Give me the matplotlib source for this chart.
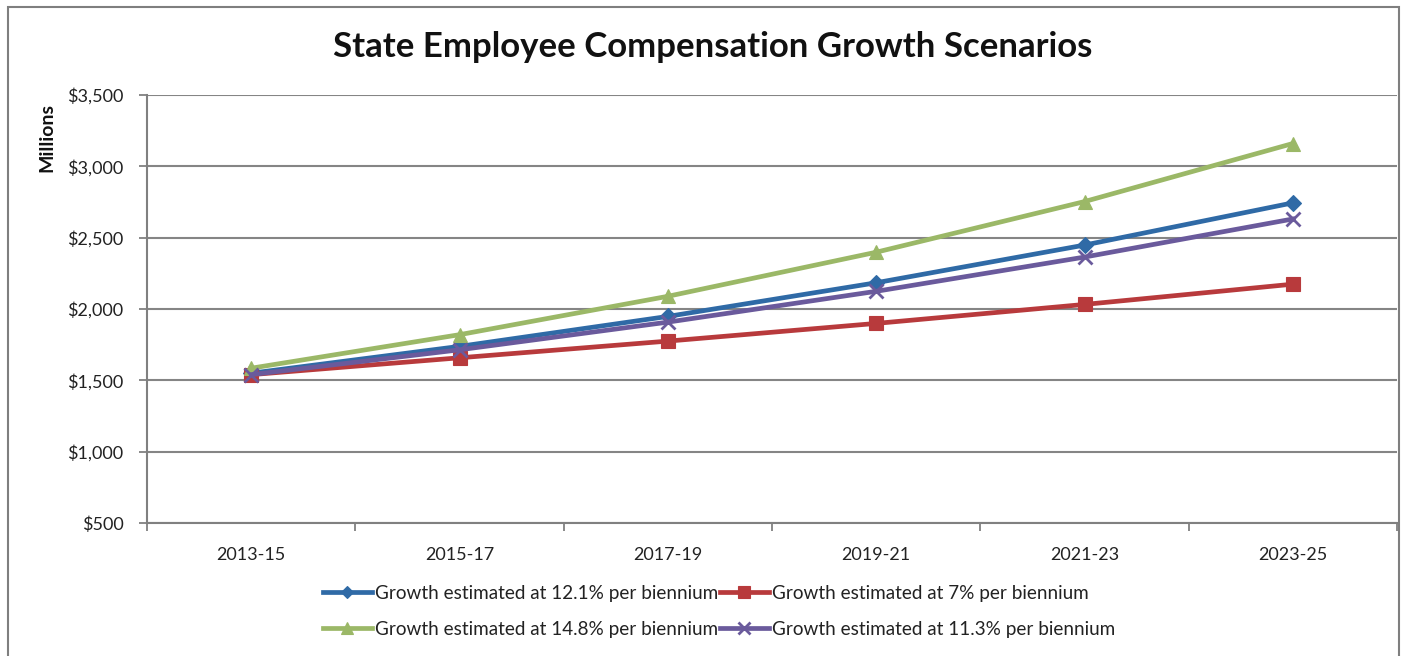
import matplotlib.pyplot as plt
from matplotlib.patches import Rectangle
from matplotlib.ticker import FuncFormatter, MultipleLocator

plt.rcParams['font.family'] = ['Lato', 'DejaVu Sans']

periods = ['2013-15', '2015-17', '2017-19', '2019-21', '2021-23', '2023-25']
growth_121 = [1550, 1738, 1948, 2184, 2448, 2744]
growth_70 = [1540, 1658, 1775, 1899, 2032, 2174]
growth_148 = [1585, 1820, 2089, 2398, 2753, 3160]
growth_113 = [1540, 1714, 1908, 2124, 2364, 2631]

series = [
    ('Growth estimated at 12.1% per biennium', growth_121, '#2f6aa6', 'D', 8),
    ('Growth estimated at 7% per biennium', growth_70, '#b83a3c', 's', 10),
    ('Growth estimated at 14.8% per biennium', growth_148, '#9bb867', '^', 10),
    ('Growth estimated at 11.3% per biennium', growth_113, '#6a5a9c', 'x', 10),
]

fig = plt.figure(figsize=(14.01, 6.56), dpi=100)
fig.patches.append(Rectangle((8 / 1401, -0.01), 1391 / 1401, 1 - 7 / 656 + 0.01,
                             transform=fig.transFigure, fill=False,
                             edgecolor='#7f7f7f', linewidth=1.5))

ax = fig.add_axes([147 / 1401, 1 - 523 / 656, 1250 / 1401, 428 / 656])
x = list(range(len(periods)))

handles = []
for label, values, color, marker, size in series:
    h, = ax.plot(x, values, color=color, linewidth=3.4, marker=marker,
                 markersize=size, markeredgewidth=2 if marker == 'x' else 0.8,
                 markeredgecolor=color, label=label, zorder=3)
    handles.append(h)

ax.set_xlim(-0.5, 5.5)
ax.set_ylim(500, 3500)
ax.yaxis.set_major_locator(MultipleLocator(500))
ax.yaxis.set_major_formatter(FuncFormatter(lambda v, _: '${:,.0f}'.format(v)))
ax.set_xticks(x)
ax.set_xticklabels(periods)
ax.set_xticks([i - 0.5 for i in range(len(periods) + 1)], minor=True)
ax.tick_params(axis='x', which='major', length=0, pad=17, labelsize=13,
               colors='#222222')
ax.tick_params(axis='x', which='minor', length=6, width=1.3, color='#808080')
ax.tick_params(axis='y', length=6, width=1.3, color='#808080', pad=11,
               labelsize=13, labelcolor='#222222')

ax.grid(axis='y', color='#858585', linewidth=1.5, zorder=0)
for side in ['top', 'right']:
    ax.spines[side].set_visible(False)
for side in ['left', 'bottom']:
    ax.spines[side].set_color('#808080')
    ax.spines[side].set_linewidth(1.5)

fig.text(47 / 1401, 1 - 137 / 656, 'Millions', rotation=90, ha='center',
         va='center', fontsize=14, fontweight='bold', color='#111111')

fig.text(0.509, 1 - 47 / 656, 'State Employee Compensation Growth Scenarios',
         ha='center', va='center', fontsize=25, fontweight='bold', color='#111111')

# legend fills column by column, so interleave to get row order 12.1, 7 / 14.8, 11.3
legend_handles = [handles[0], handles[2], handles[1], handles[3]]
leg = fig.legend(handles=legend_handles, loc='upper center',
                 bbox_to_anchor=(0.513, 0.134), ncol=2, frameon=False,
                 fontsize=13.6, handlelength=2.6, handletextpad=0.15,
                 columnspacing=0.1, labelspacing=1.0, labelcolor='#222222',
                 markerscale=0.8)

fig.savefig('out.png', dpi=100, facecolor='white')
